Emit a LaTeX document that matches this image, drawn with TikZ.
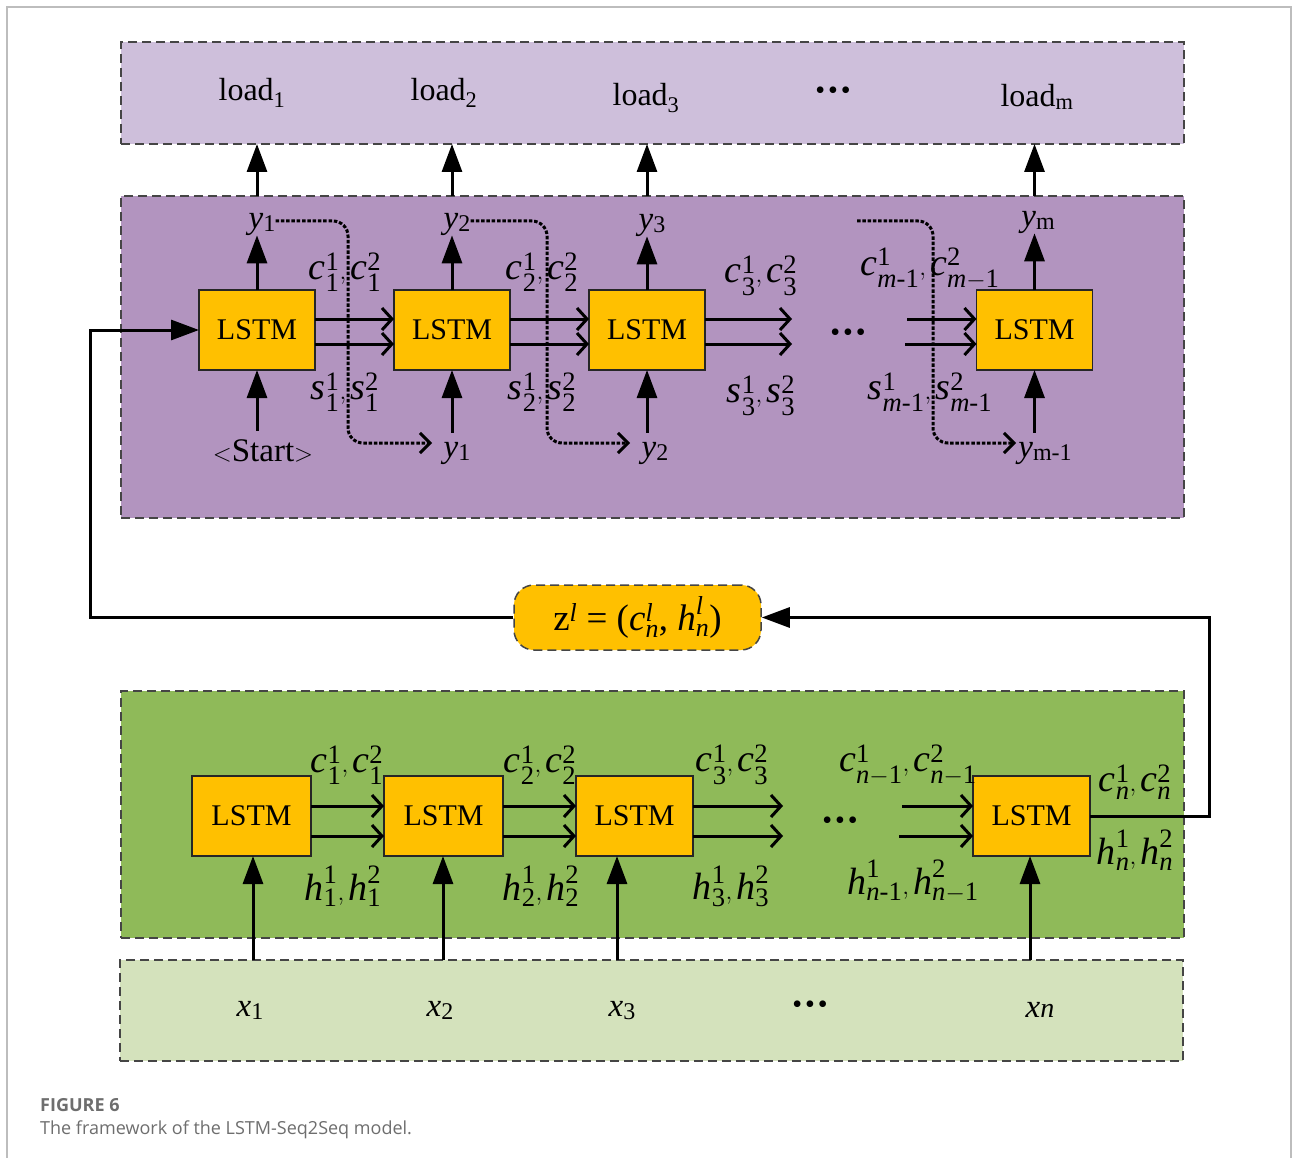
\documentclass[tikz,border=0pt]{standalone}
\usepackage{fontspec}
\usepackage{amsmath}
\setmainfont{Liberation Serif}
\newfontfamily\capfont{Open Sans}
\usetikzlibrary{arrows.meta,calc}

\definecolor{loadfill}{HTML}{CEBFDB}
\definecolor{decfill}{HTML}{B294BF}
\definecolor{encfill}{HTML}{8FBA59}
\definecolor{infill}{HTML}{D4E2BC}
\definecolor{cellfill}{HTML}{FFC000}
\definecolor{rimgray}{HTML}{454545}
\definecolor{framegray}{HTML}{BDBDBD}
\definecolor{capgray}{HTML}{6E6E6E}

% pair of state labels  a^1_x , a^2_y
\newcommand\stt[3]{$\textit{#1}^{\text{1}}_{#2},\textit{#1}^{\text{2}}_{#3}$}
% sequence element with a lowered index
\newcommand\seqel[2]{\textit{#1}\raisebox{-3pt}{\fontsize{24}{24}\selectfont #2}}
\newcommand\tridot{\textbullet\hspace{3pt}\textbullet\hspace{3pt}\textbullet}

\begin{document}
\begin{tikzpicture}[x=1pt,y=-1pt,
  panel/.style={draw=rimgray,line width=1.5pt,dash pattern=on 9pt off 5pt,
    minimum width=1063pt,inner sep=0pt,outer sep=0pt},
  cell/.style={draw=black!85,line width=1.2pt,fill=cellfill,minimum height=80pt,
    inner sep=0pt,outer sep=0pt,font=\fontsize{30}{32}\selectfont},
  lab/.style={inner sep=0pt,font=\fontsize{38}{40}\selectfont},
  seq/.style={inner sep=0pt,font=\fontsize{33}{36}\selectfont},
  dots/.style={inner sep=0pt,font=\fontsize{28}{30}\selectfont},
  flow/.style={line width=3pt,-{Straight Barb[length=10pt,width=22pt]}},
  feed/.style={line width=3pt,-{Triangle[length=28pt,width=20pt]}},
  dotflow/.style={line width=3pt,dash pattern=on 3.5pt off 1.8pt,rounded corners=15pt,
    -{Straight Barb[length=10pt,width=20pt]}}]

\useasboundingbox (0,0) rectangle (1292,1158);
\fill[white] (0,0) rectangle (1292,1158);
\draw[framegray,line width=1.2pt] (7,1158) -- (7,7) -- (1291,7) -- (1291,1158);

% panels
\node[panel,fill=loadfill,minimum height=102pt] (outp) at (652.5,93) {};
\node[panel,fill=decfill,minimum height=322pt] (dec) at (652.5,357) {};
\node[panel,fill=encfill,minimum height=247pt] (enc) at (652.5,814.5) {};
\node[panel,fill=infill,minimum height=101pt] (inp) at (651.5,1010.5) {};

% output row
\node[seq,font=\fontsize{32}{36}\selectfont] (o1) at (252,93) {load\textsubscript{1}};
\node[seq,font=\fontsize{32}{36}\selectfont] (o2) at (444,93) {load\textsubscript{2}};
\node[seq,font=\fontsize{32}{36}\selectfont] (o3) at (646,98) {load\textsubscript{3}};
\node[dots] (odots) at (833,93) {\tridot};
\node[seq,font=\fontsize{32}{36}\selectfont] (om) at (1037,97) {load\textsubscript{m}};

% decoder cells
\node[cell,minimum width=116pt] (d1) at (257,330) {LSTM};
\node[cell,minimum width=116pt] (d2) at (452,330) {LSTM};
\node[cell,minimum width=116pt] (d3) at (647,330) {LSTM};
\node[cell,minimum width=116pt] (d4) at (1034.5,330) {LSTM};

% encoder cells
\node[cell,minimum width=119pt] (e1) at (251.5,816) {LSTM};
\node[cell,minimum width=119pt] (e2) at (443.5,816) {LSTM};
\node[cell,minimum width=117pt] (e3) at (634.5,816) {LSTM};
\node[cell,minimum width=117pt] (e4) at (1031.5,816) {LSTM};

% context vector
\node[draw=rimgray,line width=1.5pt,dash pattern=on 9pt off 5pt,fill=cellfill,
  rounded corners=20pt,minimum width=247pt,minimum height=65pt,inner sep=0pt,
  font=\fontsize{37}{42}\selectfont] (z) at (637.5,617.5)
  {$\text{z}^{\textit{l}}\text{ = (}\textit{c}^{\textit{l}}_{\textit{n}}\text{, }\textit{h}^{\textit{l}}_{\textit{n}}\text{)}$};

% decoder outputs and inputs
\node[seq] (yo1) at (262,224) {\seqel{y}{1}};
\node[seq] (yo2) at (457,224) {\seqel{y}{2}};
\node[seq] (yo3) at (652,225) {\seqel{y}{3}};
\node[seq] (yo4) at (1038,222) {\seqel{y}{m}};
\node[seq,inner ysep=9pt,font=\fontsize{33}{36}\selectfont] (yi1) at (263,451) {$<$Start$>$};
\node[seq,inner ysep=9pt] (yi2) at (457,453) {\seqel{y}{1}};
\node[seq,inner ysep=9pt] (yi3) at (655,453) {\seqel{y}{2}};
\node[seq,inner ysep=9pt] (yi4) at (1045,453) {\seqel{y}{m-1}};

% decoder state labels
\node[lab] (dc1) at (345,272) {\stt{c}{\text{1}}{\text{1}}};
\node[lab] (ds1) at (345,392) {\stt{s}{\text{1}}{\text{1}}};
\node[lab] (dc2) at (542,272) {\stt{c}{\text{2}}{\text{2}}};
\node[lab] (ds2) at (542,392) {\stt{s}{\text{2}}{\text{2}}};
\node[lab] (dc3) at (761,276) {\stt{c}{\text{3}}{\text{3}}};
\node[lab] (ds3) at (761,396) {\stt{s}{\text{3}}{\text{3}}};
\node[lab] (dc4) at (930,269) {\stt{c}{\textit{m}\text{-1}}{\textit{m}-\text{1}}};
\node[lab] (ds4) at (930,392) {\stt{s}{\textit{m}\text{-1}}{\textit{m}\text{-1}}};
\node[dots] (ddots) at (848,335) {\tridot};

% encoder state labels
\node[lab] (ec1) at (347,765) {\stt{c}{\text{1}}{\text{1}}};
\node[lab] (eh1) at (343,886) {\stt{h}{\text{1}}{\text{1}}};
\node[lab] (ec2) at (540,765) {\stt{c}{\text{2}}{\text{2}}};
\node[lab] (eh2) at (541,886) {\stt{h}{\text{2}}{\text{2}}};
\node[lab] (ec3) at (732,765) {\stt{c}{\text{3}}{\text{3}}};
\node[lab] (eh3) at (731,886) {\stt{h}{\text{3}}{\text{3}}};
\node[lab] (ec4) at (908,765) {\stt{c}{\textit{n}-\text{1}}{\textit{n}-\text{1}}};
\node[lab] (eh4) at (913,881) {\stt{h}{\textit{n}\text{-1}}{\textit{n}-\text{1}}};
\node[lab] (ecn) at (1135,782) {\stt{c}{\textit{n}}{\textit{n}}};
\node[lab] (ehn) at (1135,850) {\stt{h}{\textit{n}}{\textit{n}}};
\node[dots] (edots) at (840,823) {\tridot};

% encoder inputs
\node[seq] (x1) at (250,1010) {\seqel{x}{1}};
\node[seq] (x2) at (440,1010) {\seqel{x}{2}};
\node[seq] (x3) at (622,1011) {\seqel{x}{3}};
\node[dots] (xdots) at (810,1007) {\tridot};
\node[seq] (xn) at (1040,1010) {\textit{x}{\fontsize{28}{28}\selectfont\itshape n}};

% decoder recurrences
\foreach \a/\b in {d1/d2,d2/d3}{
  \draw[flow] ($(\a.east)+(0,-11)$) -- ($(\b.west)+(0,-11)$);
  \draw[flow] ($(\a.east)+(0,14)$) -- ($(\b.west)+(0,14)$);
}
\coordinate (dtail) at (792,330);
\coordinate (dhead) at (907,330);
\draw[flow] ($(d3.east)+(0,-11)$) -- ($(dtail)+(0,-11)$);
\draw[flow] ($(d3.east)+(0,14)$) -- ($(dtail)+(0,14)$);
\draw[flow] ($(dhead)+(0,-11)$) -- ($(d4.west)+(0,-11)$);
\draw[flow] ($(dhead)+(-2,14)$) -- ($(d4.west)+(0,14)$);

% encoder recurrences
\foreach \a/\b in {e1/e2,e2/e3}{
  \draw[flow] ($(\a.east)+(0,-10)$) -- ($(\b.west)+(0,-10)$);
  \draw[flow] ($(\a.east)+(0,20)$) -- ($(\b.west)+(0,20)$);
}
\coordinate (etail) at (783,816);
\coordinate (ehead) at (902,816);
\draw[flow] ($(e3.east)+(0,-10)$) -- ($(etail)+(0,-10)$);
\draw[flow] ($(e3.east)+(0,20)$) -- ($(etail)+(0,20)$);
\draw[flow] ($(ehead)+(0,-10)$) -- ($(e4.west)+(0,-10)$);
\draw[flow] ($(ehead)+(-3,20)$) -- ($(e4.west)+(0,20)$);

% decoder vertical links
\foreach \c in {1,2,3,4}{
  \draw[feed] (d\c.north) -- (d\c.north |- yo\c.south);
  \draw[feed] (d\c.south |- yi\c.north) -- (d\c.south);
  \draw[feed] (d\c.north |- dec.north) -- (d\c.north |- outp.south);
}

% encoder inputs
\coordinate (ia1) at (253,0);
\coordinate (ia2) at (443,0);
\coordinate (ia3) at (617,0);
\coordinate (ia4) at (1030,0);
\foreach \c in {1,2,3,4}{
  \draw[feed] (ia\c |- inp.north) -- (ia\c |- e\c.south);
}

% context path: encoder -> z -> decoder
\coordinate (rx) at (1209,0);
\coordinate (lx) at (90,0);
\draw[feed] (e4.east) -- (e4.east -| rx) |- (z.east);
\draw[feed] (z.west) -- (z.west -| lx) |- (d1.west);

% fed-back predictions
\coordinate (k1a) at (348,221);
\coordinate (k1b) at (348,443);
\coordinate (k1c) at (432,443);
\coordinate (k2a) at (547,221);
\coordinate (k2b) at (547,443);
\coordinate (k2c) at (630,443);
\coordinate (k3s) at (857,221);
\coordinate (k3a) at (933,221);
\coordinate (k3b) at (933,443);
\coordinate (k3c) at (1016,443);
\draw[dotflow] (yo1.east |- k1a) -- (k1a) -- (k1b) -- (k1c);
\draw[dotflow] (yo2.east |- k2a) -- (k2a) -- (k2b) -- (k2c);
\draw[dotflow] (k3s) -- (k3a) -- (k3b) -- (k3c);

% caption
\node[anchor=base west,inner sep=0pt,text=capgray,font=\capfont\bfseries\fontsize{18}{22}\selectfont]
  (capa) at (40,1111) {FIGURE 6};
\node[anchor=base west,inner sep=0pt,text=capgray,font=\capfont\fontsize{18}{22}\selectfont]
  (capb) at (40,1134) {The framework of the LSTM-Seq2Seq model.};
\end{tikzpicture}
\end{document}
